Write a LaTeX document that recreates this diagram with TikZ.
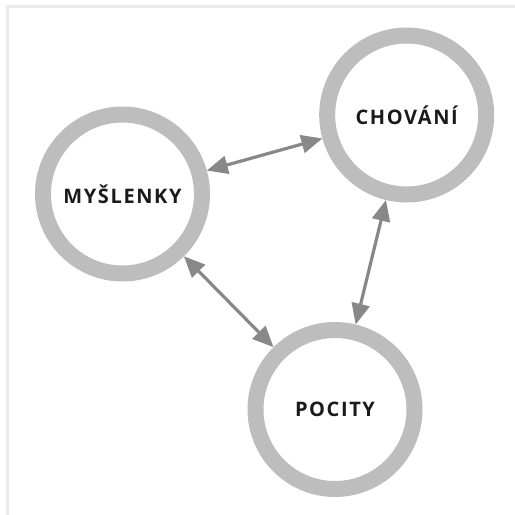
\documentclass[tikz,border=0pt]{standalone}
\usepackage{fontspec}
\setmainfont{Open Sans}[BoldFont={* Bold}]
\usetikzlibrary{arrows.meta}
\definecolor{ringgray}{HTML}{BDBDBD}
\definecolor{arrowgray}{HTML}{888888}
\definecolor{framegray}{HTML}{EBEBEB}
\definecolor{textblack}{HTML}{1A1A1A}
\begin{document}
\begin{tikzpicture}[x=1pt,y=-1pt,
  ring/.style={circle, draw=ringgray, line width=16pt, minimum size=159pt, inner sep=0pt,
    font=\fontsize{20}{22}\selectfont\bfseries\addfontfeatures{LetterSpace=8}, text=textblack},
  link/.style={draw=arrowgray, line width=3.2pt, {Triangle[length=21pt,width=18pt]}-{Triangle[length=21pt,width=18pt]}}]
\useasboundingbox (0,0) rectangle (515,515);
\draw[framegray, line width=3pt] (7.5,515) -- (7.5,6.3) -- (515,6.3);
\node[ring] (M) at (122.5,194) {MYŠLENKY};
\node[ring] (C) at (406.7,115) {CHOVÁNÍ};
\node[ring] (P) at (335,409.5) {POCITY};
\draw[link] (M) -- (C);
\draw[link] (M) -- (P);
\draw[link] (C) -- (P);
\end{tikzpicture}
\end{document}
